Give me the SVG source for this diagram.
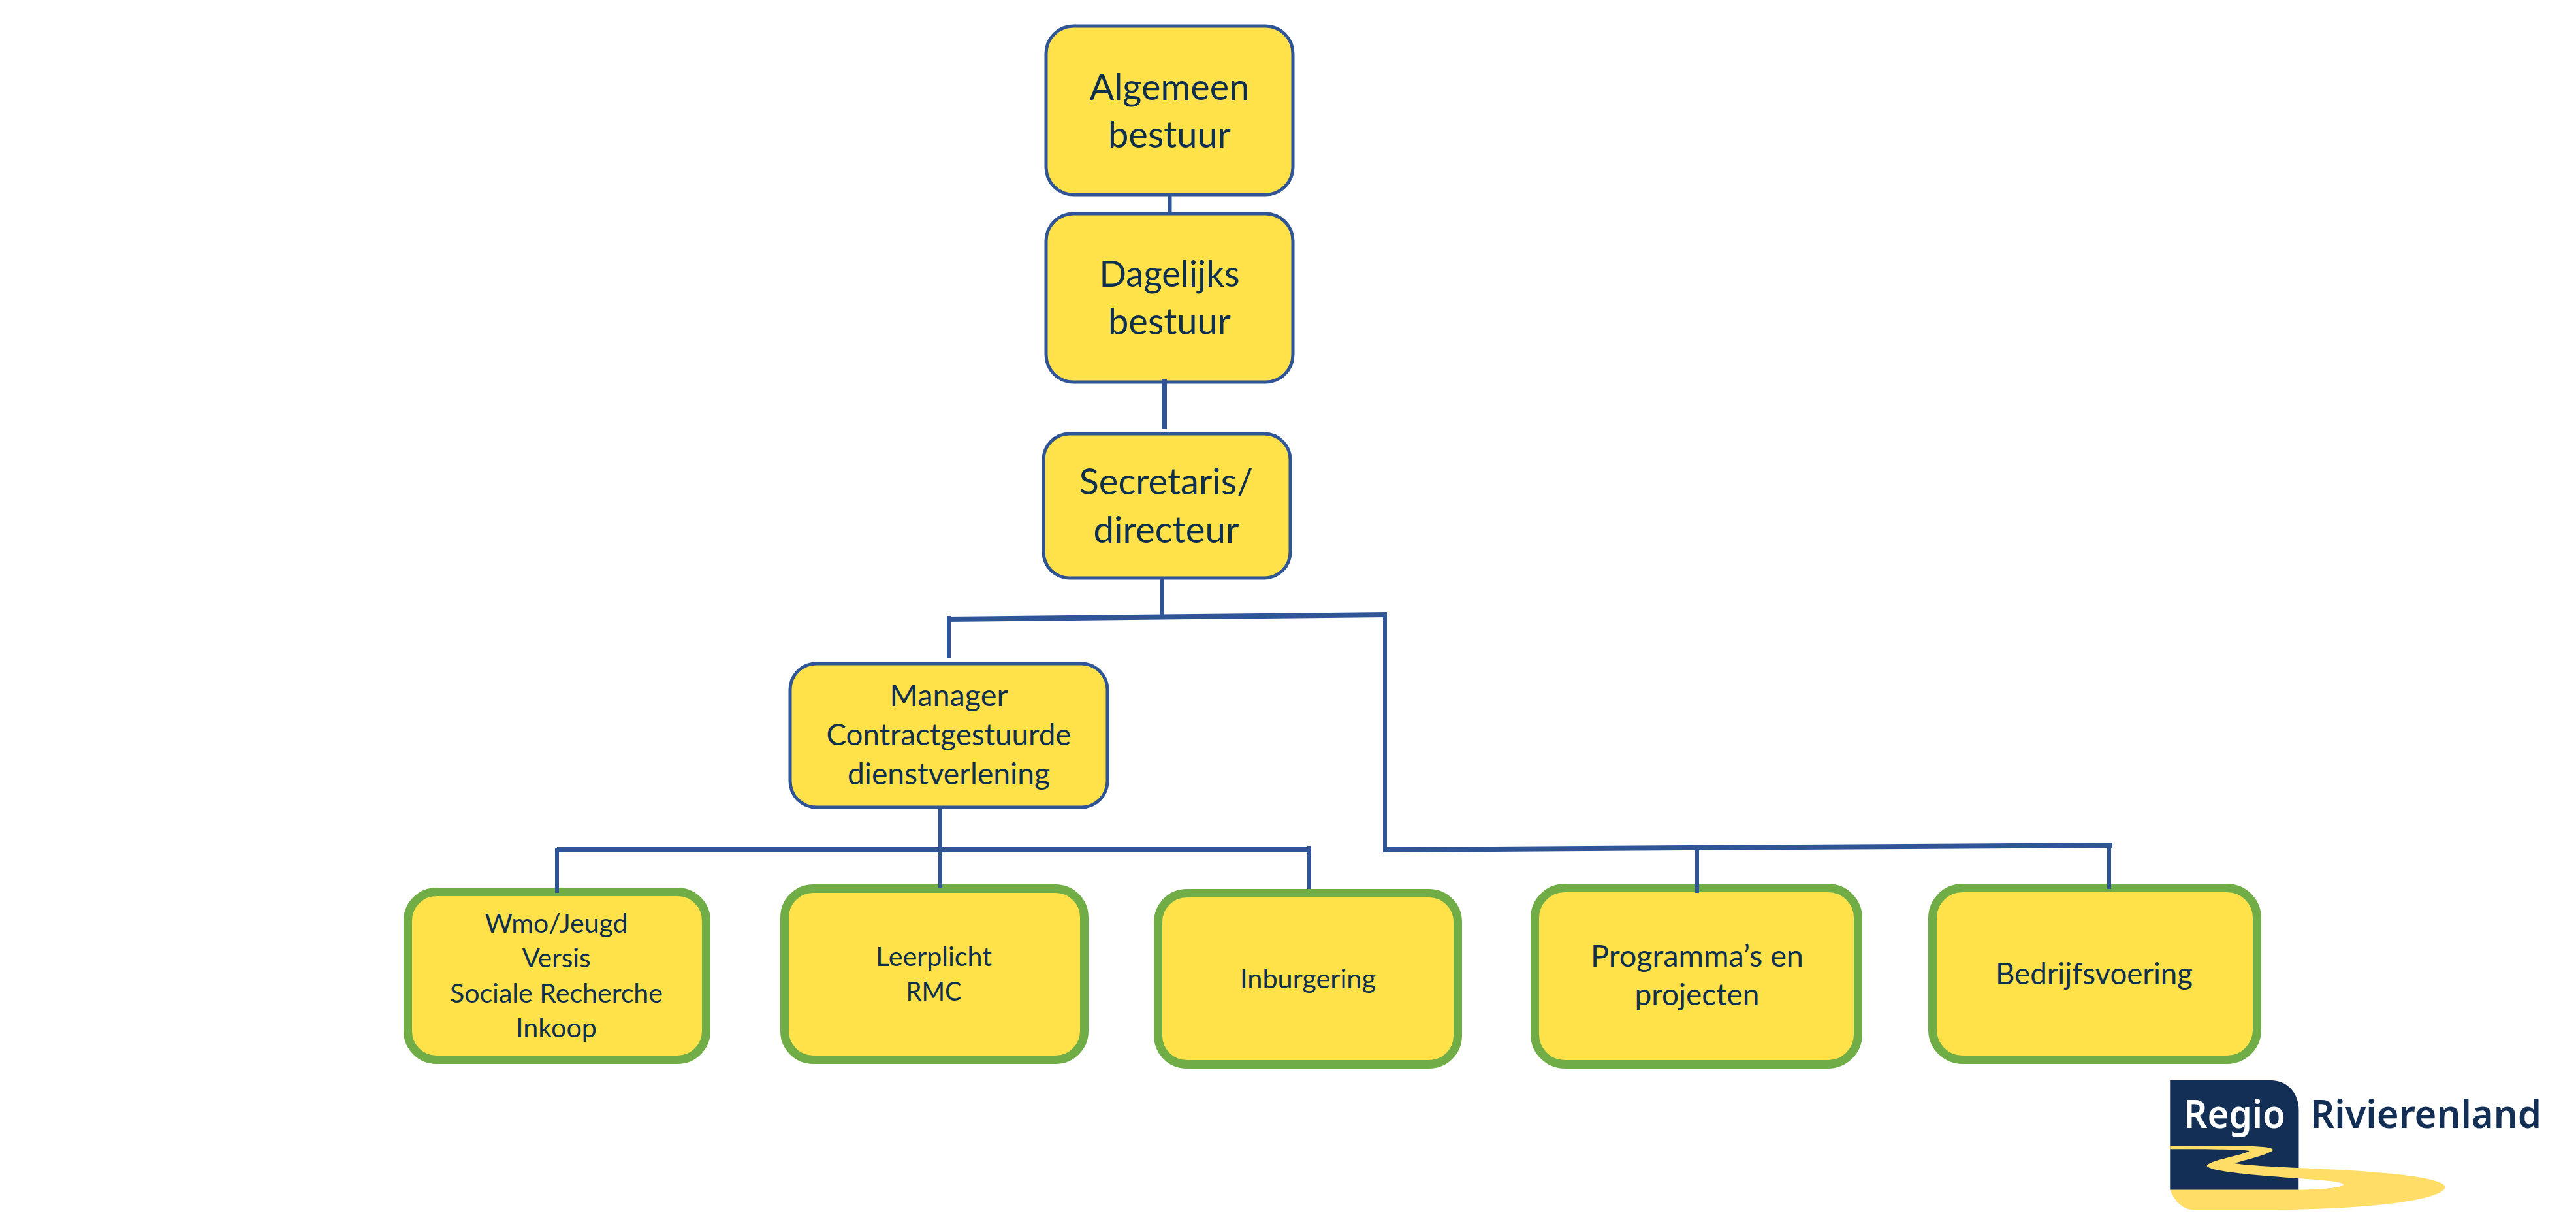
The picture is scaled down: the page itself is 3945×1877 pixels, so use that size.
<svg xmlns="http://www.w3.org/2000/svg" width="3945" height="1877" viewBox="0 0 3945 1877">
<style>
.top{fill:#ffe14a;stroke:#2f5597;stroke-width:5}
.unit{fill:#ffe14a;stroke:#70ad47;stroke-width:13}
.c{fill:none;stroke:#2f5597;stroke-width:6;stroke-linecap:butt}
.h{stroke-width:8}
.t{font-family:Lato,"Open Sans",sans-serif;fill:#0e2f4e;text-anchor:middle}
.f1{font-size:57px}.f2{font-size:47px}.f3{font-size:41px}.f4{font-size:46px}
.l{font-family:"Noto Sans","Open Sans",sans-serif;font-weight:600;font-size:59px}
</style>
<rect width="3945" height="1877" fill="#fff"/>
<g id="node-algemeen"><rect class="top" x="1602" y="40" width="378" height="258" rx="42"/>
<text class="t f1" x="1791" y="153" textLength="245" lengthAdjust="spacingAndGlyphs">Algemeen</text>
<text class="t f1" x="1791" y="226" textLength="188" lengthAdjust="spacingAndGlyphs">bestuur</text></g>
<g id="node-dagelijks"><rect class="top" x="1602" y="327" width="378" height="258" rx="42"/>
<text class="t f1" x="1791" y="439" textLength="215" lengthAdjust="spacingAndGlyphs">Dagelijks</text>
<text class="t f1" x="1791" y="512" textLength="188" lengthAdjust="spacingAndGlyphs">bestuur</text></g>
<g id="node-secretaris"><rect class="top" x="1598" y="664" width="378" height="221" rx="40"/>
<text class="t f1" x="1786" y="757" textLength="267" lengthAdjust="spacingAndGlyphs">Secretaris/</text>
<text class="t f1" x="1786" y="831" textLength="223" lengthAdjust="spacingAndGlyphs">directeur</text></g>
<g id="node-manager"><rect class="top" x="1210" y="1016" width="486" height="220" rx="40"/>
<text class="t f2" x="1453" y="1081" textLength="181" lengthAdjust="spacingAndGlyphs">Manager</text>
<text class="t f2" x="1453" y="1141" textLength="375" lengthAdjust="spacingAndGlyphs">Contractgestuurde</text>
<text class="t f2" x="1453" y="1201" textLength="310" lengthAdjust="spacingAndGlyphs">dienstverlening</text></g>
<g id="node-wmo"><rect class="unit" x="624.500" y="1365.500" width="457" height="257" rx="44"/>
<text class="t f3" x="852" y="1428" textLength="219" lengthAdjust="spacingAndGlyphs">Wmo/Jeugd</text>
<text class="t f3" x="852" y="1481" textLength="105" lengthAdjust="spacingAndGlyphs">Versis</text>
<text class="t f3" x="852" y="1535" textLength="326" lengthAdjust="spacingAndGlyphs">Sociale Recherche</text>
<text class="t f3" x="852" y="1588" textLength="124" lengthAdjust="spacingAndGlyphs">Inkoop</text></g>
<g id="node-leerplicht"><rect class="unit" x="1201.500" y="1360.500" width="459" height="262" rx="44"/>
<text class="t f3" x="1430" y="1479" textLength="178" lengthAdjust="spacingAndGlyphs">Leerplicht</text>
<text class="t f3" x="1430" y="1532" textLength="85" lengthAdjust="spacingAndGlyphs">RMC</text></g>
<g id="node-inburgering"><rect class="unit" x="1773.500" y="1367.500" width="459" height="262" rx="44"/>
<text class="t f3" x="2003" y="1513" textLength="208" lengthAdjust="spacingAndGlyphs">Inburgering</text></g>
<g id="node-programmas"><rect class="unit" x="2350.500" y="1359.500" width="495" height="270" rx="46"/>
<text class="t f4" x="2599" y="1480" textLength="326" lengthAdjust="spacingAndGlyphs">Programma’s en</text>
<text class="t f4" x="2599" y="1539" textLength="191" lengthAdjust="spacingAndGlyphs">projecten</text></g>
<g id="node-bedrijfsvoering"><rect class="unit" x="2959.500" y="1359.500" width="497" height="263" rx="46"/>
<text class="t f4" x="3207" y="1507" textLength="302" lengthAdjust="spacingAndGlyphs">Bedrijfsvoering</text></g>
<g id="connectors">
<path class="c" d="M1791.500 298V327"/>
<path class="c h" d="M1783 580V657"/>
<path class="c" d="M1779.500 883V945"/>
<path class="c h" d="M1450 948L2124 941"/>
<path class="c" d="M1453 943V1008"/>
<path class="c" d="M2121 941V1301"/>
<path class="c" d="M1440 1236V1360"/>
<path class="c h" d="M853 1301H2005"/>
<path class="c" d="M853 1298V1367"/>
<path class="c" d="M2005 1295V1361"/>
<path class="c h" d="M2118 1301L3235 1294"/>
<path class="c" d="M2599 1300V1367"/>
<path class="c" d="M3230 1294V1361"/>
</g>
<g id="logo">
<g transform="translate(3280 1620) scale(.4241 .3333)">
<path fill="#142f55" d="M102 102H470C530 105 567 165 567 240V605H102Z"/>
<path fill="#ffdd66" d="M102 403L380 404C450 406 480 412 472 425C450 445 380 465 335 483C400 497 560 503 700 512C900 525 1095 550 1095 592C1095 640 900 690 500 697H190C150 697 120 660 102 605H570C650 603 725 595 728 580C720 568 650 560 570 553C450 540 250 525 235 495C240 470 370 445 388 427C380 420 250 418 102 418Z"/>
<path fill="#fff" d="M567 553C650 560 720 568 728 580C725 595 650 603 567 603Z"/>
</g>
<text class="l" x="3344" y="1727" fill="#fff" textLength="156" lengthAdjust="spacingAndGlyphs">Regio</text>
<text class="l" x="3538" y="1727" fill="#142f55" textLength="354" lengthAdjust="spacingAndGlyphs">Rivierenland</text>
</g>
</svg>
